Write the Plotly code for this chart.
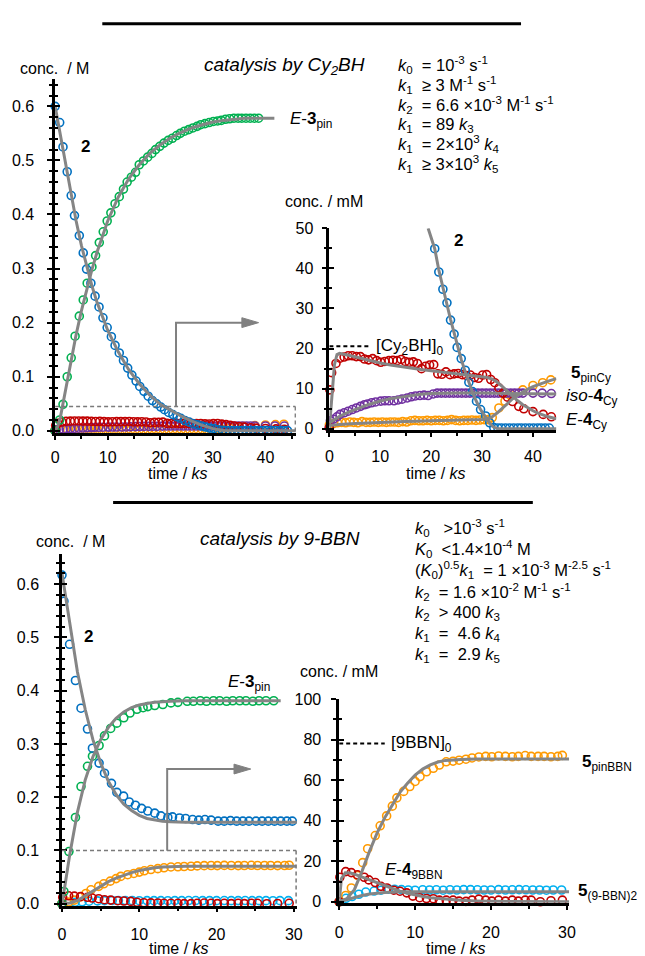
import plotly.graph_objects as go
import numpy as np

W, H = 645, 956
BLUE = "#0070C0"; GREEN = "#00B050"; RED = "#C00000"; PURPLE = "#7030A0"
ORANGE = "#FF9A00"; CYAN = "#00B0F0"; GRAY = "#858585"
FONT = "Liberation Sans, Arial, sans-serif"

# ---------------- data: catalysis by Cy2BH (main panel, M) ----------------
t_2_cy = [0, 0.87, 1.5, 2.3, 3.06, 3.68, 4.6, 5.35, 5.98, 6.8, 7.6, 8.35, 9.1, 9.9, 10.7, 11.4, 12.2, 13.0, 13.8, 14.6,
          15.4, 16.1, 16.9, 17.7, 18.5, 19.3, 20.1, 20.8, 21.6, 22.4, 23.2, 23.9, 24.7, 25.5, 26.3, 27.1, 27.9, 28.6, 29.4, 30.2,
          31.0, 31.8, 32.5, 33.3, 34.1, 34.9, 35.6, 36.4, 37.2, 38.0, 38.8, 39.5, 40.3, 41.1, 41.9, 42.7, 43.4, 44.2]
c_2_cy = [0.600, 0.570, 0.525, 0.479, 0.435, 0.398, 0.361, 0.329, 0.299, 0.273, 0.249, 0.229, 0.209, 0.191, 0.174, 0.158, 0.144, 0.130, 0.116, 0.103,
          0.092, 0.082, 0.073, 0.064, 0.056, 0.050, 0.044, 0.039, 0.034, 0.030, 0.026, 0.023, 0.019, 0.016, 0.013, 0.011, 0.009, 0.007, 0.005, 0.004,
          0.002, 0.001, 0.0005, 0.0003, 0.0003, 0.0003, 0.0003, 0.0003, 0.0003, 0.0003, 0.0003, 0.0003, 0.0003, 0.0003, 0.0003, 0.0003, 0.0003, 0.0003]
t_3_cy = [0, 0.87, 1.5, 2.3, 3.06, 3.8, 4.6, 5.35, 6.1, 7.0, 7.7, 8.4, 9.15, 9.9, 10.6, 11.4, 12.2, 13.0, 13.7, 14.5,
          15.3, 16.0, 16.8, 17.6, 18.4, 19.1, 19.9, 20.7, 21.5, 22.3, 23.1, 23.8, 24.6, 25.4, 26.2, 27.0, 27.7, 28.5, 29.3, 30.1,
          30.9, 31.6, 32.4, 33.2, 34.0, 34.8, 35.5, 36.3, 37.1, 37.9, 38.7]
c_3_cy = [0, 0.020, 0.049, 0.100, 0.135, 0.175, 0.212, 0.242, 0.273, 0.303, 0.324, 0.348, 0.368, 0.388, 0.403, 0.420, 0.433, 0.447, 0.460, 0.469,
          0.478, 0.492, 0.499, 0.506, 0.513, 0.520, 0.526, 0.532, 0.537, 0.541, 0.546, 0.550, 0.554, 0.557, 0.560, 0.563, 0.566, 0.568, 0.570, 0.572,
          0.573, 0.574, 0.576, 0.577, 0.578, 0.578, 0.578, 0.578, 0.578, 0.578, 0.578]
# model curves (M)
tm_2_cy = [0, 1, 2, 3, 4, 5, 6, 7, 8, 9, 10, 12, 14, 16, 18, 20, 22, 24, 26, 28, 30, 32, 34, 45.8]
cm_2_cy = [0.600, 0.548, 0.492, 0.438, 0.388, 0.343, 0.303, 0.268, 0.237, 0.210, 0.186, 0.146, 0.113, 0.087, 0.066, 0.049, 0.038, 0.027, 0.018, 0.010, 0.004, 0.0006, 0, 0]
tm_3_cy = [0, 0.5, 1, 2, 3, 4, 5, 6, 7, 8, 9, 10, 12, 14, 16, 18, 20, 22, 24, 26, 28, 30, 32, 34, 36, 41.7]
cm_3_cy = [0, 0.008, 0.025, 0.075, 0.130, 0.178, 0.222, 0.262, 0.298, 0.331, 0.361, 0.388, 0.432, 0.466, 0.492, 0.513, 0.529, 0.542, 0.552, 0.560, 0.566, 0.571, 0.574, 0.576, 0.578, 0.578]

# ---------------- data: catalysis by Cy2BH (inset, mM) ----------------
t_2_cyi = [20.7, 21.5, 22.3, 23.1, 23.8, 24.5, 25.1, 25.9, 26.7, 27.4, 28.1, 28.9, 29.7, 30.7, 31.5, 32.3,
           33.1, 33.8, 34.6, 35.4, 36.2, 37.0, 37.7, 38.5, 39.3, 40.1, 40.9, 41.6, 42.4, 43.2]
c_2_cyi = [44.9, 39.1, 34.8, 31.4, 27.1, 23.6, 20.3, 17.5, 14.6, 11.6, 9.3, 6.9, 4.8, 3.2, 1.5, 0.3,
           0.2, 0.2, 0.2, 0.2, 0.2, 0.2, 0.2, 0.2, 0.2, 0.2, 0.2, 0.2, 0.2, 0.2]
t_E4_cy = [0, 0.1, 0.45, 1.3, 2.1, 2.9, 3.7, 4.5, 5.3, 6.1, 6.9, 7.7, 8.5, 9.3, 10.1, 10.9, 11.7, 12.5, 13.3, 14.1,
           14.9, 15.7, 16.5, 17.3, 18.1, 18.9, 19.7, 20.5, 21.3, 22.1, 22.9, 23.7, 24.5, 25.3, 26.1, 26.9, 27.7, 28.5, 29.3, 30.1,
           30.9, 31.7, 32.5, 33.3, 34.1, 35.0, 36.0, 37.2, 38.2, 40.0, 42.0, 43.6]
c_E4_cy = [0.3, 9.7, 14.0, 16.3, 17.6, 17.9, 18.2, 18.2, 18.0, 18.0, 17.4, 17.2, 17.5, 17.0, 16.6, 16.8, 17.0, 17.1, 17.0, 17.3,
           16.8, 16.6, 16.7, 16.3, 15.0, 15.6, 15.9, 16.0, 13.7, 13.6, 14.2, 13.5, 13.7, 13.8, 13.5, 13.3, 13.4, 12.8, 12.6, 13.4,
           13.5, 12.3, 11.5, 10.2, 8.9, 7.9, 6.8, 5.6, 5.0, 4.3, 3.6, 3.0]
t_iso4_cy = [0, 0.2, 0.8, 1.5, 2.1, 2.9, 3.7, 4.5, 5.3, 6.1, 6.9, 7.5, 8.3, 9.1, 10.1, 10.9, 11.7, 12.7, 13.5, 14.3,
             15.3, 16.1, 16.9, 17.8, 18.6, 19.4, 20.4, 21.2, 22.0, 22.8, 23.6, 24.4, 25.2, 26.0, 26.8, 27.6, 28.4, 29.2, 30.0, 30.8,
             31.6, 32.4, 33.2, 34.0, 34.8, 35.6, 36.4, 37.2, 38.0, 40.0, 41.8, 43.6]
c_iso4_cy = [0.3, 2.0, 2.4, 3.0, 3.6, 4.0, 4.4, 4.8, 5.2, 5.6, 6.0, 6.2, 6.5, 6.7, 6.9, 7.0, 7.0, 7.0, 7.2, 7.4,
             7.7, 8.0, 8.2, 8.3, 8.4, 8.3, 8.7, 8.9, 8.9, 8.9, 8.9, 8.9, 8.9, 8.9, 8.9, 8.9, 8.9, 8.9, 8.9, 8.9,
             8.9, 8.9, 8.9, 8.9, 8.9, 8.9, 8.9, 8.9, 8.9, 8.9, 8.9, 8.8]
t_5_cy = [0, 0.8, 1.6, 2.4, 3.2, 4.0, 4.8, 5.6, 6.4, 7.2, 8.0, 8.8, 9.6, 10.4, 11.2, 12.0, 12.8, 13.6, 14.4, 15.2,
          16.0, 16.8, 17.6, 18.4, 19.2, 20.0, 20.8, 21.6, 22.4, 23.2, 24.0, 24.8, 25.6, 26.4, 27.2, 28.0, 28.8, 29.6, 30.4, 31.2,
          32.0, 33.3, 34.5, 35.8, 38.0, 40.0, 41.9, 43.5]
c_5_cy = [1.0, 1.3, 1.5, 1.6, 1.5, 1.7, 1.6, 1.5, 1.8, 1.6, 1.6, 1.7, 1.6, 1.7, 1.6, 1.7, 1.7, 1.6, 1.8, 1.7,
          2.0, 2.1, 2.0, 2.0, 2.1, 2.0, 2.1, 2.1, 2.0, 2.1, 2.3, 2.1, 2.0, 2.1, 2.1, 2.2, 2.1, 2.2, 2.3, 2.3,
          2.8, 5.2, 6.9, 8.5, 9.7, 10.8, 11.5, 12.2]
tm_2_cyi = [19.4, 20.7, 21.5, 22.3, 23.1, 23.8, 24.5, 25.1, 25.9, 26.7, 27.4, 28.1, 28.9, 29.7, 30.7, 31.5, 32.3, 33.0, 34.0, 44.6]
cm_2_cyi = [50, 44.9, 39.6, 35.0, 31.0, 27.3, 23.8, 20.6, 17.3, 14.2, 11.5, 9.1, 6.8, 4.8, 2.9, 1.4, 0.4, 0.1, 0.0, 0.0]
tm_E4_cy = [0, 0.5, 1.0, 1.5, 2, 4, 6, 8, 10, 12, 14, 16, 18, 20, 22, 24, 26, 28, 30, 31, 32, 33, 34, 35, 36, 37, 38, 39, 40, 41, 42, 43, 44.6]
cm_E4_cy = [0, 9, 16, 18.5, 18.8, 18.3, 17.6, 17.0, 16.4, 15.9, 15.5, 15.1, 14.8, 14.5, 14.2, 13.9, 13.6, 13.3, 13.0, 12.8, 12.4, 11.6, 10.5, 9.3, 8.1, 7.0, 6.0, 5.2, 4.5, 3.9, 3.4, 3.0, 2.5]
tm_iso4_cy = [0, 1, 2, 4, 6, 8, 10, 12, 14, 16, 18, 20, 22, 25, 30, 35, 44.6]
cm_iso4_cy = [1.5, 2.4, 3.1, 4.3, 5.3, 6.2, 6.9, 7.5, 7.9, 8.3, 8.6, 8.8, 8.9, 8.9, 8.9, 8.8, 8.7]
tm_5_cy = [0, 2, 5, 10, 15, 20, 25, 30, 31, 32, 33, 34, 35, 36, 37, 38, 39, 40, 41, 42, 43, 44.6]
cm_5_cy = [0.8, 1.1, 1.3, 1.6, 1.8, 2.0, 2.1, 2.3, 2.5, 3.0, 4.0, 5.2, 6.4, 7.5, 8.4, 9.2, 9.9, 10.5, 11.0, 11.5, 11.9, 12.5]
cy2bh_0 = 20.6          # mM
cy_box_top = 0.045       # M (inset window)

# ---------------- data: catalysis by 9-BBN (main panel, M) ----------------
t_2_bbn = [0, 0.25, 0.98, 1.74, 2.46, 3.3, 3.94, 4.8, 5.5, 6.4, 7.1, 7.97, 8.7, 9.5, 10.3, 11.1, 12.0, 12.8, 13.7, 14.3,
           15.2, 16.0, 16.9, 17.7, 18.5, 19.3, 20.2, 21.0, 21.8, 22.6, 23.4, 24.2, 25.1, 25.9, 26.7, 27.5, 28.3, 29.1, 29.8]
c_2_bbn = [0.617, 0.568, 0.487, 0.419, 0.367, 0.328, 0.292, 0.264, 0.245, 0.226, 0.209, 0.202, 0.191, 0.185, 0.179, 0.174, 0.170, 0.165, 0.162, 0.163,
           0.161, 0.160, 0.158, 0.157, 0.158, 0.157, 0.155, 0.155, 0.156, 0.155, 0.155, 0.155, 0.155, 0.155, 0.155, 0.155, 0.155, 0.155, 0.155]
t_3_bbn = [0, 0.25, 0.9, 1.74, 2.46, 3.3, 3.94, 4.8, 5.5, 6.3, 7.1, 8.0, 8.8, 9.7, 10.5, 11.1, 12.0, 13.05, 14.1, 15.0,
           16.2, 17.0, 17.9, 18.7, 19.6, 20.4, 21.3, 22.1, 23.0, 23.8, 24.7, 25.5, 26.4, 27.4]
c_3_bbn = [0, 0.023, 0.098, 0.162, 0.220, 0.258, 0.277, 0.297, 0.315, 0.329, 0.339, 0.349, 0.358, 0.365, 0.368, 0.370, 0.372, 0.374, 0.377, 0.378,
           0.380, 0.380, 0.381, 0.380, 0.381, 0.381, 0.380, 0.381, 0.381, 0.381, 0.380, 0.381, 0.381, 0.381]
tm_2_bbn = [0, 0.5, 1, 1.5, 2, 3, 4, 5, 6, 7, 8, 9, 10, 11, 12, 13, 14, 16, 20, 30.4]
cm_2_bbn = [0.620, 0.575, 0.525, 0.477, 0.435, 0.365, 0.308, 0.264, 0.230, 0.205, 0.187, 0.175, 0.166, 0.160, 0.157, 0.155, 0.154, 0.153, 0.153, 0.153]
tm_3_bbn = [0, 0.25, 0.5, 1, 1.5, 2, 3, 4, 5, 6, 7, 8, 9, 10, 11, 12, 14, 16, 28.3]
cm_3_bbn = [0, 0.02, 0.045, 0.092, 0.135, 0.172, 0.232, 0.276, 0.308, 0.331, 0.348, 0.360, 0.368, 0.373, 0.376, 0.378, 0.380, 0.381, 0.381]

# ---------------- data: catalysis by 9-BBN (inset, mM) ----------------
t_5pin = [0, 0.86, 1.6, 2.4, 3.1, 3.75, 4.75, 5.4, 6.25, 7.0, 7.6, 8.5, 9.3, 10.0, 10.65, 11.5, 12.4, 13.2, 14.1, 15.0,
          15.8, 16.7, 17.5, 18.4, 19.3, 20.1, 21.0, 21.9, 22.8, 23.6, 24.5, 25.3, 26.2, 27.0, 27.9, 28.8, 29.4]
c_5pin = [0, 3.1, 6.8, 13.0, 19.3, 26.2, 32.7, 37.5, 42.4, 47.2, 51.3, 54.5, 56.9, 59.4, 61.8, 64.2, 65.9, 67.5, 69.1, 69.4,
          69.9, 70.4, 71.0, 71.5, 71.8, 71.6, 72.0, 71.8, 71.6, 71.8, 72.2, 71.8, 71.8, 71.8, 71.6, 71.8, 72.3]
t_E4_bbn = [0, 0.09, 0.86, 1.6, 2.4, 3.3, 3.9, 4.75, 5.5, 6.3, 7.2, 8.0, 8.9, 9.7, 10.6, 11.5, 12.4, 13.2, 14.1, 15.0,
            15.8, 16.7, 17.5, 18.4, 19.3, 20.1, 21.0, 21.9, 22.8, 23.6, 24.5, 25.3, 26.5, 27.9, 29.4]
c_E4_bbn = [0, 12.1, 14.9, 14.4, 13.3, 12.1, 10.8, 9.5, 7.6, 6.8, 5.7, 5.2, 4.4, 2.8, 2.0, 1.6, 1.5, 0.8, 0.8, 0.8,
            0.3, 0.2, 0.8, 1.3, 0.8, 0.3, 0.8, 0.3, 0.8, 0.3, 0.8, 0.8, 0.0, 0.5, 0.8]
t_5bbn2 = [0, 0.9, 1.7, 2.6, 3.5, 4.6, 5.5, 6.5, 7.3, 8.2, 9.1, 10.0, 11.0, 11.9, 12.8, 13.7, 14.6, 15.5, 16.4, 17.3,
           18.2, 19.1, 20.0, 21.0, 21.9, 22.8, 23.7, 24.6, 25.5, 26.4, 27.3, 28.2, 29.3]
c_5bbn2 = [0, 1.7, 2.6, 3.7, 4.8, 5.3, 5.7, 6.2, 6.2, 6.0, 5.8, 5.7, 5.9, 5.8, 5.9, 5.7, 5.9, 5.8, 6.0, 6.0,
           5.9, 5.8, 5.8, 6.0, 5.8, 5.9, 6.0, 5.9, 5.8, 5.8, 5.7, 5.8, 5.8]
tm_5pin = [0, 1, 2, 3, 4, 5, 6, 7, 8, 9, 10, 11, 12, 13, 14, 16, 18, 30.3]
cm_5pin = [0, 1.5, 6.0, 15.0, 25.0, 34.0, 41.5, 48.0, 54.0, 58.5, 62.5, 65.5, 67.6, 69.0, 69.8, 70.3, 70.5, 70.5]
tm_E4_bbn = [0, 0.3, 0.8, 1.5, 2, 3, 4, 5, 6, 7, 8, 9, 10, 11, 12, 14, 16, 18, 20, 30.3]
cm_E4_bbn = [0, 11.5, 14.3, 14.2, 13.6, 12.2, 10.7, 9.1, 7.7, 6.4, 5.2, 4.2, 3.3, 2.6, 2.0, 1.2, 0.7, 0.4, 0.2, 0.0]
tm_5bbn2 = [0, 1, 2, 3, 4, 5, 6, 8, 10, 30.3]
cm_5bbn2 = [0, 1.1, 2.2, 3.1, 3.8, 4.3, 4.6, 4.9, 5.0, 5.0]
bbn_0 = 78.2            # mM
bbn_box_top = 0.1        # M

MM = 1000.0

def PX(x): return x / W
def PY(y): return 1 - y / H

fig = go.Figure()

def markers(t, c, color, xa, ya):
    fig.add_trace(go.Scatter(x=t, y=c, mode="markers", xaxis=xa, yaxis=ya, cliponaxis=False, hoverinfo="skip",
                             marker=dict(symbol="circle-open", size=8, color=color, line=dict(width=1.6, color=color))))

def model(t, c, xa, ya):
    fig.add_trace(go.Scatter(x=t, y=c, mode="lines", xaxis=xa, yaxis=ya, cliponaxis=False, hoverinfo="skip",
                             line=dict(color=GRAY, width=3)))

# --- top main
markers(t_5_cy, np.array(c_5_cy) / MM, ORANGE, "x", "y")
markers(t_iso4_cy, np.array(c_iso4_cy) / MM, PURPLE, "x", "y")
markers(t_E4_cy, np.array(c_E4_cy) / MM, RED, "x", "y")
markers(t_3_cy, c_3_cy, GREEN, "x", "y")
markers(t_2_cy, c_2_cy, BLUE, "x", "y")
model(tm_2_cy, cm_2_cy, "x", "y")
model(tm_3_cy, cm_3_cy, "x", "y")
# --- top inset
markers(t_5_cy, c_5_cy, ORANGE, "x2", "y2")
markers(t_iso4_cy, c_iso4_cy, PURPLE, "x2", "y2")
markers(t_E4_cy, c_E4_cy, RED, "x2", "y2")
markers(t_2_cyi, c_2_cyi, BLUE, "x2", "y2")
model(tm_5_cy, cm_5_cy, "x2", "y2")
model(tm_iso4_cy, cm_iso4_cy, "x2", "y2")
model(tm_E4_cy, cm_E4_cy, "x2", "y2")
model(tm_2_cyi, cm_2_cyi, "x2", "y2")
# --- bottom main
markers(t_5bbn2, np.array(c_5bbn2) / MM, CYAN, "x3", "y3")
markers(t_5pin, np.array(c_5pin) / MM, ORANGE, "x3", "y3")
markers(t_E4_bbn, np.array(c_E4_bbn) / MM, RED, "x3", "y3")
markers(t_3_bbn, c_3_bbn, GREEN, "x3", "y3")
markers(t_2_bbn, c_2_bbn, BLUE, "x3", "y3")
model(tm_5pin, np.array(cm_5pin) / MM, "x3", "y3")
model(tm_2_bbn, cm_2_bbn, "x3", "y3")
model(tm_3_bbn, cm_3_bbn, "x3", "y3")
# --- bottom inset
markers(t_5bbn2, c_5bbn2, CYAN, "x4", "y4")
markers(t_5pin, c_5pin, ORANGE, "x4", "y4")
markers(t_E4_bbn, c_E4_bbn, RED, "x4", "y4")
model(tm_5bbn2, cm_5bbn2, "x4", "y4")
model(tm_E4_bbn, cm_E4_bbn, "x4", "y4")
model(tm_5pin, cm_5pin, "x4", "y4")

# dummy traces for inside-tick overlay axes
for ya, xa in [("y5", "x"), ("y6", "x2"), ("y7", "x3"), ("y8", "x4")]:
    fig.add_trace(go.Scatter(x=[None], y=[None], xaxis=xa, yaxis=ya, mode="markers", showlegend=False, hoverinfo="skip"))

TF = 16
tickfont = dict(family=FONT, size=TF, color="black")

def xax(dom, rng, anchor, standoff):
    return dict(domain=[PX(dom[0]), PX(dom[1])], range=rng, anchor=anchor, showline=True, linecolor="black", linewidth=2.5,
                ticks="outside", ticklen=4, tickwidth=1.5, tickcolor="black", dtick=10, tick0=0,
                minor=dict(ticks="outside", ticklen=3, dtick=5, tickcolor="black", tickwidth=1.5),
                showgrid=False, zeroline=False, tickfont=tickfont, ticklabelstandoff=standoff, fixedrange=True)

def yax(dom, rng, anchor, dt, mdt, fmt, standoff):
    return dict(domain=[PY(dom[0]), PY(dom[1])], range=rng, anchor=anchor, showline=True, linecolor="black", linewidth=2.5,
                ticks="outside", ticklen=5, tickwidth=2, tickcolor="black", dtick=dt, tick0=0, tickformat=fmt,
                minor=dict(ticks="outside", ticklen=3, dtick=mdt, tickcolor="black", tickwidth=1.5),
                showgrid=False, zeroline=False, tickfont=tickfont, ticklabelstandoff=standoff, fixedrange=True)

def yin(over, anchor, rng, dt, mdt):
    return dict(overlaying=over, anchor=anchor, range=rng, showline=False, showticklabels=False,
                ticks="inside", ticklen=5, tickwidth=2, tickcolor="black", dtick=dt, tick0=0,
                minor=dict(ticks="inside", ticklen=3, dtick=mdt, tickcolor="black", tickwidth=1.5),
                showgrid=False, zeroline=False, fixedrange=True)

r_y1 = [-0.0036, 0.65]; r_y2 = [-0.37, 50]; r_y3 = [-0.0037, 0.657]; r_y4 = [-0.5, 100]

fig.update_layout(
    autosize=True, margin=dict(l=0, r=0, t=0, b=0), showlegend=False,
    paper_bgcolor="white", plot_bgcolor="rgba(0,0,0,0)", font=dict(family=FONT, size=TF, color="black"),
    xaxis=xax((52, 297), [0, 45.8], "y", 4),
    yaxis=yax((432, 72.5), r_y1, "x", 0.1, 0.02, ".1f", 10),
    xaxis2=xax((331, 562), [0, 44.6], "y2", 6),
    yaxis2=yax((429.5, 224), r_y2, "x2", 10, 5, "d", 5),
    xaxis3=xax((59, 298), [0, 30.4], "y3", 8),
    yaxis3=yax((913, 555), r_y3, "x3", 0.1, 0.02, ".1f", 12),
    xaxis4=xax((341, 575), [0, 30.3], "y4", 9),
    yaxis4=yax((910, 703), r_y4, "x4", 20, 10, "d", 7),
    yaxis5=yin("y", "x", r_y1, 0.1, 0.02),
    yaxis6=yin("y2", "x2", r_y2, 10, 5),
    yaxis7=yin("y3", "x3", r_y3, 0.1, 0.02),
    yaxis8=yin("y4", "x4", r_y4, 20, 10),
)

def txt(x, y, s, size=16, xanchor="left"):
    fig.add_annotation(x=PX(x), y=PY(y), xref="paper", yref="paper", text=s, showarrow=False,
                       xanchor=xanchor, yanchor="middle", font=dict(family=FONT, size=size, color="black"))

LF = 17   # curve label size
KF = 16.5 # rate-constant list size
# ---- top block text
txt(14, 62, "conc.&nbsp; / M")
txt(201, 59, "<i>catalysis by Cy<sub>2</sub>BH</i>", 19)
k_cy = ["<i>k</i><sub>0</sub>&nbsp; = 10<sup>-3</sup> s<sup>-1</sup>",
        "<i>k</i><sub>1</sub>&nbsp; ≥ 3 M<sup>-1</sup> s<sup>-1</sup>",
        "<i>k</i><sub>2</sub>&nbsp; = 6.6 ×10<sup>-3</sup> M<sup>-1</sup> s<sup>-1</sup>",
        "<i>k</i><sub>1</sub>&nbsp; = 89 <i>k</i><sub>3</sub>",
        "<i>k</i><sub>1</sub>&nbsp; = 2×10<sup>3</sup> <i>k</i><sub>4</sub>",
        "<i>k</i><sub>1</sub>&nbsp; ≥ 3×10<sup>3</sup> <i>k</i><sub>5</sub>"]
for i, s in enumerate(k_cy):
    txt(399, 58 + i * 20.2, s, KF)
txt(76, 141, "<b>2</b>", LF)
txt(289, 114, "<i>E</i>-<b>3</b><sub>pin</sub>", LF)
txt(177, 473, "time / <i>ks</i>", 16, "center")
txt(284, 197, "conc. / mM")
txt(456, 236, "<b>2</b>", LF)
txt(376, 345, "[Cy<sub>2</sub>BH]<sub>0</sub>", LF)
txt(575, 372, "<b>5</b><sub>pinCy</sub>", LF)
txt(570, 396, "<i>iso</i>-<b>4</b><sub>Cy</sub>", LF)
txt(570, 420, "<i>E</i>-<b>4</b><sub>Cy</sub>", LF)
txt(440, 473, "time / <i>ks</i>", 16, "center")

# ---- bottom block text
txt(31, 543, "conc.&nbsp; / M")
txt(197, 540, "<i>catalysis by 9-BBN</i>", 19)
k_bbn = ["<i>k</i><sub>0</sub>&nbsp;&nbsp; &gt;10<sup>-3</sup> s<sup>-1</sup>",
         "<i>K</i><sub>0</sub>&nbsp; &lt;1.4×10<sup>-4</sup> M",
         "(<i>K</i><sub>0</sub>)<sup>0.5</sup><i>k</i><sub>1</sub>&nbsp; = 1 ×10<sup>-3</sup> M<sup>-2.5</sup> s<sup>-1</sup>",
         "<i>k</i><sub>2</sub>&nbsp; = 1.6 ×10<sup>-2</sup> M<sup>-1</sup> s<sup>-1</sup>",
         "<i>k</i><sub>2</sub>&nbsp; &gt; 400 <i>k</i><sub>3</sub>",
         "<i>k</i><sub>1</sub>&nbsp; = &nbsp;4.6 <i>k</i><sub>4</sub>",
         "<i>k</i><sub>1</sub>&nbsp; = &nbsp;2.9 <i>k</i><sub>5</sub>"]
for i, s in enumerate(k_bbn):
    txt(416, 529 + i * 21.5, s, KF)
txt(79, 639, "<b>2</b>", LF)
txt(226, 686, "<i>E</i>-<b>3</b><sub>pin</sub>", LF)
txt(178, 957, "time / <i>ks</i>", 16, "center")
txt(299, 675, "conc. / mM")
txt(392, 749, "[9BBN]<sub>0</sub>", LF)
txt(586, 768, "<b>5</b><sub>pinBBN</sub>", LF)
txt(386, 878, "<i>E</i>-<b>4</b><sub>9BBN</sub>", LF)
txt(582, 899, "<b>5</b><sub>(9-BBN)2</sub>", LF)
txt(460, 957, "time / <i>ks</i>", 16, "center")

# ---- shapes
shapes = []
shapes.append(dict(type="line", xref="paper", yref="paper", x0=PX(100), x1=PX(526), y0=PY(16), y1=PY(16), line=dict(color="black", width=3)))
shapes.append(dict(type="line", xref="paper", yref="paper", x0=PX(111), x1=PX(538), y0=PY(503), y1=PY(503), line=dict(color="black", width=3)))
dash = dict(color="#7a7a7a", width=1.6, dash="4px,3px")
shapes.append(dict(type="line", xref="x", yref="y", x0=0, x1=45.7, y0=cy_box_top, y1=cy_box_top, line=dash))
shapes.append(dict(type="line", xref="x", yref="y", x0=45.7, x1=45.7, y0=cy_box_top, y1=0, line=dash))
shapes.append(dict(type="line", xref="x3", yref="y3", x0=0, x1=30.3, y0=bbn_box_top, y1=bbn_box_top, line=dash))
shapes.append(dict(type="line", xref="x3", yref="y3", x0=30.3, x1=30.3, y0=bbn_box_top, y1=0, line=dash))
shapes.append(dict(type="line", xref="x2", yref="y2", x0=0, x1=7.7, y0=cy2bh_0, y1=cy2bh_0, line=dict(color="black", width=2, dash="4px,3px")))
shapes.append(dict(type="line", xref="x4", yref="y4", x0=0, x1=6.0, y0=bbn_0, y1=bbn_0, line=dict(color="black", width=2, dash="4px,3px")))

def arrow(xv, ybot, ytop, xtip):
    shapes.append(dict(type="path", xref="paper", yref="paper",
                       path=f"M {PX(xv)},{PY(ybot)} L {PX(xv)},{PY(ytop)} L {PX(xtip-14)},{PY(ytop)}",
                       line=dict(color="#808080", width=2)))
    shapes.append(dict(type="path", xref="paper", yref="paper",
                       path=f"M {PX(xtip)},{PY(ytop)} L {PX(xtip-17)},{PY(ytop-5)} L {PX(xtip-17)},{PY(ytop+5)} Z",
                       line=dict(color="#808080", width=1), fillcolor="#808080"))
arrow(175, 405, 320, 259)
arrow(166, 857, 774, 251)
fig.update_layout(shapes=shapes)

# the plot div is pinned to the page's top-left corner so the body margin cannot offset it
fig.write_html("out.html", config={"displayModeBar": False},
               default_width="645px; position:absolute; left:0px; top:0px",
               default_height="956px",
               post_script="document.body.style.margin='0px';")
